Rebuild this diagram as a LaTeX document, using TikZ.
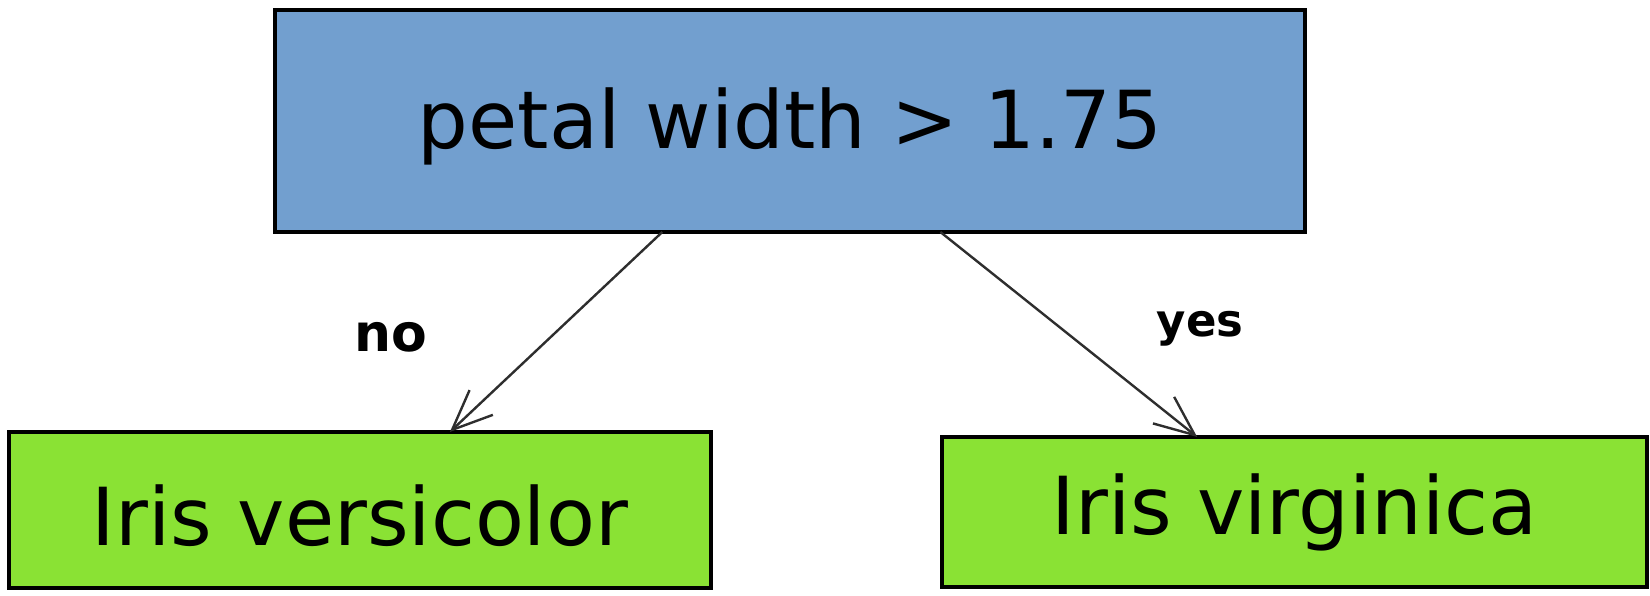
\documentclass[tikz,border=0pt]{standalone}
\usepackage{fontspec}
\setmainfont{DejaVu Sans}
\usetikzlibrary{arrows.meta,calc}
\definecolor{skyblue}{HTML}{729FCF}
\definecolor{leafgreen}{HTML}{8AE234}
\definecolor{edgegray}{HTML}{2E2E2E}
\tikzset{
  box/.style={draw=black, line width=2pt, inner sep=0pt, outer sep=0pt, anchor=center},
  decision/.style={box, fill=skyblue, minimum width=515pt, minimum height=111pt, font=\fontsize{40}{48}\selectfont},
  leaf/.style={box, fill=leafgreen, font=\fontsize{40}{48}\selectfont},
  edge/.style={draw=edgegray, line width=1.2pt, -{Straight Barb[length=20pt,width=17pt,line width=1.2pt]}},
  elabel/.style={font=\bfseries, inner sep=0pt}
}
\begin{document}
\begin{tikzpicture}[x=0.5pt,y=-0.5pt]
\useasboundingbox (0,0) rectangle (1650,595);
\node[decision, text height=30pt, text depth=3pt] (top) at (790,121) {petal width > 1.75};
\node[leaf, minimum width=351pt, minimum height=78pt, text height=35pt, text depth=0pt] (L) at (360,510) {Iris versicolor};
\node[leaf, minimum width=352.5pt, minimum height=75pt] (R) at (1294.5,512) {Iris virginica};
\draw[edge] ($(top.south west)!0.376!(top.south east)$) -- ($(L.north west)!0.628!(L.north east)$);
\draw[edge] ($(top.south west)!0.646!(top.south east)$) -- ($(R.north west)!0.362!(R.north east)$);
\node[elabel, font=\bfseries\fontsize{26}{30}\selectfont] (no) at (391,337) {no};
\node[elabel, font=\bfseries\fontsize{22.5}{27}\selectfont] (yes) at (1200,329) {yes};
\end{tikzpicture}
\end{document}
